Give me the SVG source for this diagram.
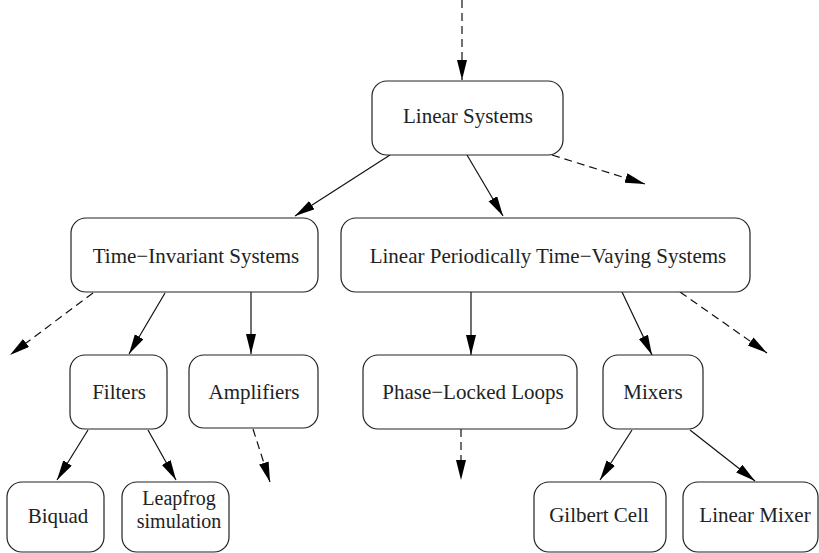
<svg xmlns="http://www.w3.org/2000/svg" width="819" height="553" viewBox="0 0 819 553">
<style>
.box{fill:#fff;stroke:#222;stroke-width:1.2}
.t{font-family:"Liberation Serif","Times New Roman",serif;font-size:21px;fill:#222;text-anchor:middle}
.s{font-size:20px}
.e{stroke:#111;stroke-width:1.2;fill:none}
.d{stroke-dasharray:8,5}
</style>
<defs>
<marker id="ah" markerUnits="userSpaceOnUse" markerWidth="20" markerHeight="12" refX="20" refY="5" orient="auto">
<path d="M0,0 L20,5 L0,10 z" fill="#000"/>
</marker>
</defs>
<g id="connectors">
<line class="e d" x1="462" y1="0" x2="462" y2="80" marker-end="url(#ah)"/>
<line class="e d" x1="552" y1="155" x2="645" y2="184" marker-end="url(#ah)"/>
<line class="e" x1="390" y1="155" x2="295" y2="216" marker-end="url(#ah)"/>
<line class="e" x1="467" y1="155" x2="503" y2="216" marker-end="url(#ah)"/>
<line class="e d" x1="93" y1="293" x2="10" y2="355" marker-end="url(#ah)"/>
<line class="e" x1="165" y1="293" x2="129" y2="354" marker-end="url(#ah)"/>
<line class="e" x1="251" y1="292" x2="251" y2="354" marker-end="url(#ah)"/>
<line class="e" x1="471" y1="292" x2="471" y2="355" marker-end="url(#ah)"/>
<line class="e" x1="622" y1="292" x2="652" y2="355" marker-end="url(#ah)"/>
<line class="e d" x1="680" y1="292" x2="767" y2="353" marker-end="url(#ah)"/>
<line class="e" x1="88" y1="430" x2="57" y2="480" marker-end="url(#ah)"/>
<line class="e" x1="148" y1="430" x2="176" y2="480" marker-end="url(#ah)"/>
<line class="e d" x1="253" y1="429" x2="270" y2="482" marker-end="url(#ah)"/>
<line class="e d" x1="461" y1="429" x2="461" y2="480" marker-end="url(#ah)"/>
<line class="e" x1="632" y1="430" x2="600" y2="480" marker-end="url(#ah)"/>
<line class="e" x1="690" y1="430" x2="755" y2="481" marker-end="url(#ah)"/>
</g>
<g id="linear-systems"><rect class="box" x="372" y="81" width="191" height="74" rx="15"/><text class="t" x="468" y="123">Linear Systems</text></g>
<g id="time-invariant"><rect class="box" x="71" y="218" width="247" height="74" rx="15"/><text class="t" x="196" y="263">Time−Invariant Systems</text></g>
<g id="lptv"><rect class="box" x="341" y="218" width="409" height="74" rx="15"/><text class="t" x="548" y="263">Linear Periodically Time−Vaying Systems</text></g>
<g id="filters"><rect class="box" x="70" y="355" width="97" height="74" rx="15"/><text class="t" x="119" y="399">Filters</text></g>
<g id="amplifiers"><rect class="box" x="189" y="355" width="129" height="73" rx="15"/><text class="t" x="254" y="399">Amplifiers</text></g>
<g id="pll"><rect class="box" x="363" y="355" width="214" height="74" rx="15"/><text class="t" x="473" y="399">Phase−Locked Loops</text></g>
<g id="mixers"><rect class="box" x="603" y="355" width="100" height="74" rx="15"/><text class="t" x="653" y="399">Mixers</text></g>
<g id="biquad"><rect class="box" x="7" y="482" width="97" height="70" rx="15"/><text class="t" x="58" y="523">Biquad</text></g>
<g id="leapfrog"><rect class="box" x="122" y="482" width="107" height="70" rx="15"/><text class="t s" x="179" y="505">Leapfrog</text><text class="t s" x="179" y="528">simulation</text></g>
<g id="gilbert-cell"><rect class="box" x="534" y="482" width="132" height="70" rx="15"/><text class="t" x="599" y="522">Gilbert Cell</text></g>
<g id="linear-mixer"><rect class="box" x="683" y="482" width="135" height="70" rx="15"/><text class="t" x="755" y="522">Linear Mixer</text></g>
</svg>
